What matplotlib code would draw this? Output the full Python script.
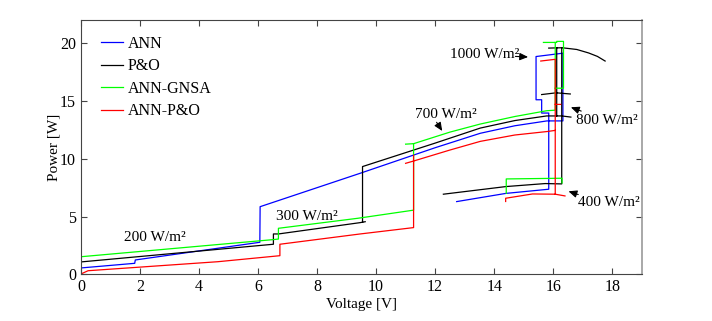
import numpy as np
import matplotlib
matplotlib.use("Agg")
import matplotlib.pyplot as plt

nan = np.nan
plt.rcParams['font.family'] = ['Liberation Serif', 'DejaVu Serif']
plt.rcParams['font.size'] = 11

# ---- data (Voltage [V], Power [W]); NaN separates segments ----
ann_v = [0, 1.82, 1.84, 6.06, 6.07, 9.46, 12.0, 13.53, 14.7, 15.79, 16.33, 16.33, 15.61, 15.42, 15.42,
         15.61, 15.61, 15.85, 15.85, 14.4, 12.73]
ann_p = [0.55, 0.95, 1.24, 2.77, 5.85, 8.74, 10.95, 12.2, 12.85, 13.27, 13.27, 19.13, 18.9, 18.84, 15.1,
         15.1, 13.95, 13.95, 7.36, 7.0, 6.29]

po_v = [0, 6.52, 6.52, 6.69, 9.46, 9.63, nan, 9.54, 9.54, 12.0, 13.53, 14.7, 15.78, 16.29, 16.6, nan,
        16.29, 16.29, 15.73, 14.4, 12.28, nan, 15.85, 16.3, 16.8, 17.2, 17.5, 17.76, nan,
        16.12, 16.12, nan, 15.61, 16.1, 16.58]
po_p = [1.07, 2.6, 3.49, 3.49, 4.47, 4.55, nan, 4.5, 9.32, 11.35, 12.65, 13.3, 13.7, 13.7, 13.6, nan,
        19.6, 7.82, 7.85, 7.59, 6.93, nan, 19.57, 19.6, 19.45, 19.15, 18.85, 18.45, nan,
        19.6, 13.7, nan, 15.55, 15.7, 15.6]

gnsa_v = [0, 6.51, 6.69, 6.69, 9.39, 11.27, 11.27, nan, 11.0, 11.27, 12.5, 13.53, 14.7, 15.78, 16.07,
          16.07, 15.67, nan, 16.07, 16.12, 16.12, 16.35, 16.35, 16.07, nan, 14.41, 14.41, 16.3, 16.3]
gnsa_p = [1.52, 3.0, 3.05, 3.98, 4.85, 5.55, 11.3, nan, 11.26, 11.3, 12.3, 13.0, 13.65, 14.15, 14.2,
          20.06, 20.06, nan, 20.06, 20.06, 20.15, 20.15, 16.1, 16.1, nan, 7.0, 8.25, 8.31, 7.9]

annpo_v = [0, 0.24, 4.64, 6.74, 6.74, 9.46, 11.27, 11.27, nan, 11.0, 11.27, 12.5, 13.53, 14.7, 15.79,
           16.07, nan, 15.58, 16.07, 16.07, nan, 16.07, 16.25, nan, 14.39, 14.39, 15.3, 16.07, 16.4]
annpo_p = [0.03, 0.31, 1.09, 1.61, 2.6, 3.49, 4.04, 10.3, nan, 9.6, 9.8, 10.75, 11.5, 12.05, 12.35,
           12.45, nan, 18.45, 18.6, 6.93, nan, 14.7, 14.7, nan, 6.3, 6.58, 6.95, 6.93, 6.78]

labels = ["ANN", "P&O", "ANN-GNSA", "ANN-P&O"]
colors = ["#0000ff", "#000000", "#00ff00", "#ff0000"]

irr_labels = ["1000 W/m²", "800 W/m²", "700 W/m²", "400 W/m²", "300 W/m²", "200 W/m²"]
irr_text_xy = [(12.5, 19.05), (16.78, 13.3), (11.32, 13.79), (16.83, 6.2), (6.61, 4.99), (1.47, 3.2)]

xticks = [0, 2, 4, 6, 8, 10, 12, 14, 16, 18]
yticks = [0, 5, 10, 15, 20]

# ---- figure ----
fig = plt.figure(figsize=(7.12, 3.21), dpi=100)
ax = fig.add_axes([81/712, 46.7/321, (641.7-81)/712, (274.3-20)/321])

series = [(ann_v, ann_p), (po_v, po_p), (gnsa_v, gnsa_p), (annpo_v, annpo_p)]
for (v, p), lab, c in zip(series, labels, colors):
    ax.plot(v, p, color=c, lw=0.9, label=lab)

for txt, (x, y) in zip(irr_labels, irr_text_xy):
    ax.text(x, y, txt, ha='left', va='center', fontsize=11)

arrow_kw = dict(arrowstyle='-|>,head_length=0.5,head_width=0.22', color='black', lw=0.8,
                mutation_scale=10, shrinkA=0, shrinkB=0)
ax.annotate('', xy=(15.15, 18.8), xytext=(14.72, 18.85), arrowprops=arrow_kw)
ax.annotate('', xy=(16.6, 14.45), xytext=(16.95, 14.12), arrowprops=arrow_kw)
ax.annotate('', xy=(12.24, 12.4), xytext=(12.05, 13.15), arrowprops=arrow_kw)
ax.annotate('', xy=(16.52, 7.18), xytext=(16.85, 6.9), arrowprops=arrow_kw)

ax.set_xlim(0, 19)
ax.set_ylim(0, 22)
ax.set_xticks(xticks)
ax.set_yticks(yticks)
ax.tick_params(direction='in', top=True, right=True, length=4, width=0.8, labelsize=11.5,
               color='#444444')
ax.set_xlabel("Voltage [V]", fontsize=11, labelpad=2)
ax.set_ylabel("Power [W]", fontsize=11, labelpad=0)
for s in ['left', 'top', 'bottom']:
    ax.spines[s].set_color('#444444')
    ax.spines[s].set_linewidth(0.8)
ax.spines['right'].set_color('#999999')
ax.spines['right'].set_linewidth(1.2)

leg = ax.legend(loc='upper left', bbox_to_anchor=(20.0/560.7, 1 - 16/254.3), frameon=False,
                handlelength=1.4, handletextpad=0.25, labelspacing=0.4, borderaxespad=0,
                borderpad=0, fontsize=11.5)

fig.savefig("out.png", dpi=100)
